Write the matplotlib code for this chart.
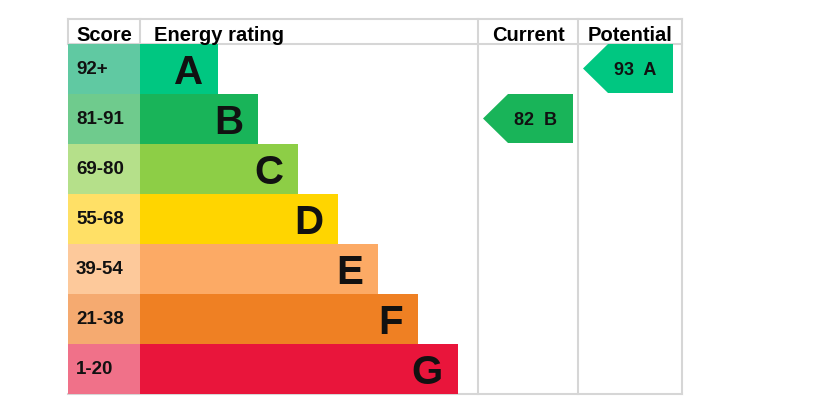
import matplotlib
matplotlib.use("Agg")
from matplotlib import pyplot as plt
from matplotlib.patches import Rectangle, Polygon

# EPC bands
bands = ["A", "B", "C", "D", "E", "F", "G"]
score_ranges = ["92+", "81-91", "69-80", "55-68", "39-54", "21-38", "1-20"]
lower_bounds = [92, 81, 69, 55, 39, 21, 1]
band_colors = ["#00c781", "#19b459", "#8dce46", "#ffd500", "#fcaa65", "#ef8023", "#e9153b"]
score_colors = ["#60c9a2", "#6fcb8d", "#b5e08a", "#ffe066", "#fdc99b", "#f5aa70", "#f07189"]
current = 82
potential = 93

FONT = "Liberation Sans"
GRID = "#d6d6d6"

# layout in pixels
left, score_w = 68, 72
top, head_h, row_h = 19, 25, 50
bar0, bar_step = 78, 40
col_cur, col_pot, right = 478, 578, 682


def band_of(score):
    for i, lb in enumerate(lower_bounds):
        if score >= lb:
            return i
    return len(bands) - 1


fig = plt.figure(figsize=(8.19, 4.17), dpi=100)
ax = fig.add_axes([0, 0, 1, 1])
ax.set_xlim(0, 819)
ax.set_ylim(417, 0)
ax.axis("off")

y_rows = top + head_h
bottom = y_rows + row_h * len(bands)
lw = 1.5

# grid
for y in (top, y_rows, bottom):
    ax.plot([left, right], [y, y], color=GRID, lw=lw, zorder=1)
for x in (left, left + score_w):
    ax.plot([x, x], [top, y_rows], color=GRID, lw=lw, zorder=1)
for x in (col_cur, col_pot, right):
    ax.plot([x, x], [top, bottom], color=GRID, lw=lw, zorder=1)

# headers
hy = top + 21.5
hk = dict(fontsize=14.5, fontweight="bold", family=FONT, va="baseline")
ax.text(left + 8, hy, "Score", ha="left", **hk)
ax.text(left + score_w + 14, hy, "Energy rating", ha="left", **hk)
ax.text((col_cur + col_pot) / 2, hy, "Current", ha="center", **hk)
ax.text((col_pot + right) / 2, hy, "Potential", ha="center", **hk)

# rows
for i, (b, sr) in enumerate(zip(bands, score_ranges)):
    y = y_rows + i * row_h
    ax.add_patch(Rectangle((left, y), score_w, row_h, facecolor=score_colors[i], edgecolor="none", zorder=2))
    w = bar0 + i * bar_step
    ax.add_patch(Rectangle((left + score_w, y), w, row_h, facecolor=band_colors[i], edgecolor="none", zorder=2))
    ax.text(left + 8, y + 30, sr, fontsize=13.5, fontweight="bold", family=FONT,
            va="baseline", ha="left", color="#111111", zorder=3)
    ax.text(left + score_w + w - 15, y + 40, b, fontsize=29, fontweight="bold", family=FONT,
            va="baseline", ha="right", color="#111111", zorder=3)


def arrow(score, x0, x1):
    i = band_of(score)
    y0 = y_rows + i * row_h
    y1 = y0 + row_h - 1
    yc = (y0 + y1) / 2
    pts = [(x0, yc), (x0 + 25, y0), (x1, y0), (x1, y1), (x0 + 25, y1)]
    ax.add_patch(Polygon(pts, closed=True, facecolor=band_colors[i], edgecolor="none", zorder=2))
    ax.text((x0 + x1) / 2 + 7, y0 + 31, f"{score}  {bands[i]}", fontsize=13, fontweight="bold",
            family=FONT, va="baseline", ha="center", color="#111111", zorder=3)


arrow(current, col_cur + 5, col_pot - 5)
arrow(potential, col_pot + 5, right - 9)

fig.savefig("out.png", dpi=100)
